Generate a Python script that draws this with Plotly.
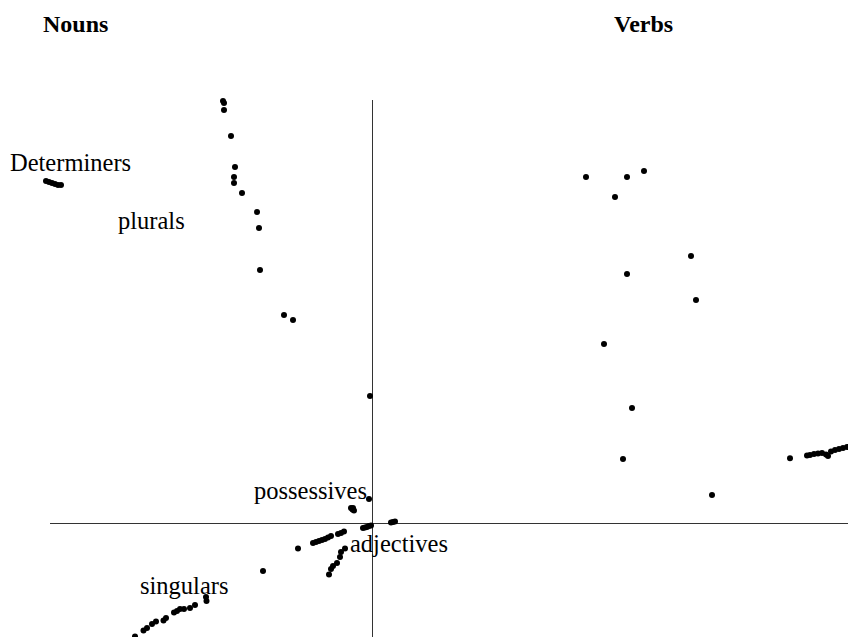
import plotly.graph_objects as go

# Values in data units (origin where the two axis lines cross)
det_x = [-3.26, -3.23, -3.20, -3.17, -3.14, -3.11]
det_y = [3.42, 3.41, 3.40, 3.39, 3.38, 3.38]

plural_x = [-1.49, -1.48, -1.48, -1.41, -1.37, -1.38, -1.38, -1.30, -1.15, -1.13, -1.12, -0.88, -0.79]
plural_y = [4.22, 4.20, 4.13, 3.87, 3.56, 3.46, 3.40, 3.30, 3.11, 2.95, 2.53, 2.08, 2.03]

poss_x = [-0.02, -0.03, -0.21, -0.195, -0.18, -0.19]
poss_y = [1.27, 0.24, 0.15, 0.135, 0.125, 0.15]

origin_x = [-0.09, -0.07, -0.05, -0.03, -0.01, 0.19, 0.21, 0.23]
origin_y = [-0.05, -0.045, -0.04, -0.03, -0.025, 0.005, 0.01, 0.015]

noun_x = [-0.74, -0.59, -0.56, -0.53, -0.50, -0.47, -0.44, -0.41, -0.34, -0.31, -0.28]
noun_y = [-0.255, -0.20, -0.19, -0.18, -0.17, -0.16, -0.145, -0.13, -0.11, -0.10, -0.085]

adj_x = [-0.27, -0.31, -0.32, -0.35, -0.39, -0.41, -0.43, -1.09]
adj_y = [-0.255, -0.29, -0.34, -0.40, -0.43, -0.46, -0.515, -0.48]

sing_x = [-1.66, -1.655, -1.77, -1.82, -1.88, -1.92, -1.95, -1.98, -2.06, -2.085, -2.16, -2.20, -2.25, -2.285, -2.37]
sing_y = [-0.74, -0.78, -0.82, -0.85, -0.86, -0.86, -0.88, -0.895, -0.95, -0.975, -0.985, -1.01, -1.05, -1.075, -1.135]

verb_x = [2.14, 2.55, 2.72, 2.43, 3.19, 2.55, 3.24, 2.32, 2.60, 2.51, 3.40]
verb_y = [3.46, 3.46, 3.52, 3.26, 2.67, 2.49, 2.23, 1.79, 1.15, 0.64, 0.28]

vcl_x = [4.18, 4.35, 4.38, 4.42, 4.46, 4.50, 4.54, 4.56, 4.59, 4.63, 4.67, 4.71, 4.75, 4.79]
vcl_y = [0.647, 0.675, 0.68, 0.69, 0.695, 0.70, 0.685, 0.67, 0.715, 0.73, 0.74, 0.75, 0.76, 0.77]

labels = ["Determiners", "plurals", "possessives", "adjectives", "singulars"]
label_x = [-3.64, -2.56, -1.20, -0.24, -2.34]
label_y = [3.61, 3.03, 0.33, -0.20, -0.62]

titles = ["Nouns", "Verbs"]
title_x = [-2.965, 2.715]
title_y = [4.99, 4.99]

X_RANGE = [-3.72, 4.76]
Y_RANGE = [-1.14, 5.23]

all_x = det_x + plural_x + poss_x + origin_x + noun_x + adj_x + sing_x + verb_x + vcl_x
all_y = det_y + plural_y + poss_y + origin_y + noun_y + adj_y + sing_y + verb_y + vcl_y

fig = go.Figure()
fig.add_trace(go.Scatter(
    x=all_x, y=all_y, mode="markers",
    marker=dict(size=6, color="black", line=dict(width=0)),
    hoverinfo="skip", showlegend=False,
))

# axis lines (half-pixel offset keeps them crisp)
fig.add_shape(type="line", x0=-3.22, x1=X_RANGE[1], y0=-0.005, y1=-0.005,
              line=dict(color="#333", width=1), layer="below")
fig.add_shape(type="line", x0=0.005, x1=0.005, y0=Y_RANGE[0], y1=4.23,
              line=dict(color="#333", width=1), layer="below")

font_serif = "Liberation Serif, Times New Roman, serif"
for t, x, y in zip(labels, label_x, label_y):
    fig.add_annotation(x=x, y=y, text=t, showarrow=False, xanchor="left", yanchor="middle",
                       font=dict(family=font_serif, size=24.5, color="black"))
for t, x, y in zip(titles, title_x, title_y):
    fig.add_annotation(x=x, y=y, text="<b>" + t + "</b>", showarrow=False,
                       xanchor="center", yanchor="middle",
                       font=dict(family=font_serif, size=24, color="black"))

fig.update_layout(
    width=848, height=637,
    margin=dict(l=0, r=0, t=0, b=0),
    paper_bgcolor="white", plot_bgcolor="white",
    xaxis=dict(range=X_RANGE, visible=False, showgrid=False, zeroline=False),
    yaxis=dict(range=Y_RANGE, visible=False, showgrid=False, zeroline=False),
)
fig.write_html(
    "out.html",
    config={"displayModeBar": False},
    post_script="document.body.style.margin='0';document.body.style.overflow='hidden';",
)
